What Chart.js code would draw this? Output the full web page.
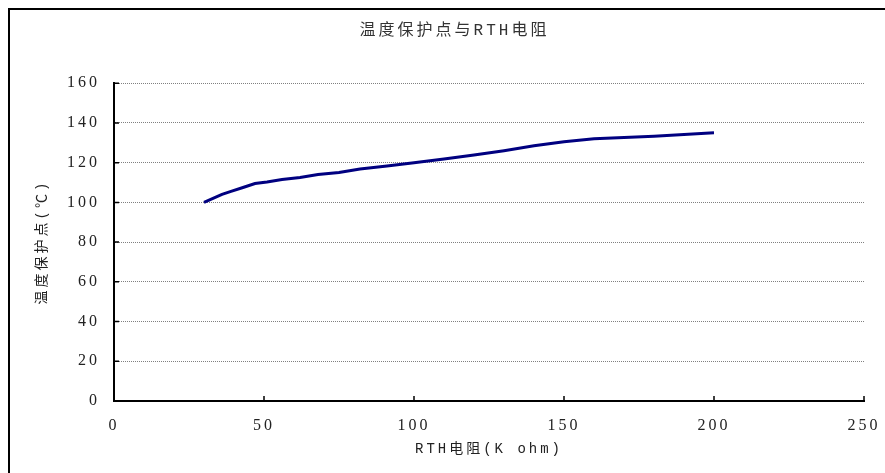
<!DOCTYPE html>
<html>
<head>
<meta charset="utf-8">
<script src="https://cdn.jsdelivr.net/npm/chart.js@4"></script>
<style>
  html, body { margin: 0; padding: 0; background: #fff; overflow: hidden; }
  #wrap { position: relative; width: 885px; height: 473px; }
  #frame { position: absolute; left: 8px; top: 8px; width: 900px; height: 500px; border: 2px solid #000; }
  canvas { position: absolute; left: 0; top: 0; }
</style>
</head>
<body>
<div id="wrap">
  <div id="frame"></div>
  <canvas id="grafik" width="885" height="473"></canvas>
</div>
<script>
// resistance (K ohm) vs protection temperature
var rthValues = [30, 33, 36, 39, 43, 47, 51, 56, 62, 68, 75, 82, 91, 100, 110, 120, 130, 140, 150, 160, 180, 200]
var tempValues = [100, 102, 104, 105.5, 107.5, 109.5, 110.3, 111.5, 112.5, 114, 115, 116.8, 118.3, 120, 121.8, 123.8, 126, 128.5, 130.5, 132, 133.3, 135]
var xTicks = [0, 50, 100, 150, 200, 250]
var yTicks = [0, 20, 40, 60, 80, 100, 120, 140, 160]

var serif = '"Liberation Serif", "Noto Sans CJK SC", serif'
var mono = '"Liberation Mono", "Noto Sans CJK SC", monospace'

// wide letter spacing like the original song-style font
var spacing = {
  id: 'spacing',
  beforeInit: function(chart) { chart.ctx.letterSpacing = '3px' },
  beforeUpdate: function(chart) { chart.ctx.letterSpacing = '3px' },
  beforeDraw: function(chart) { chart.ctx.letterSpacing = '3px' }
}

// small inward tick marks on both axes
var innerTicks = {
  id: 'innerTicks',
  afterDraw: function(chart) {
    var ctx = chart.ctx, area = chart.chartArea
    var xs = chart.scales.x, ys = chart.scales.y
    ctx.save()
    ctx.strokeStyle = '#000'
    ctx.lineWidth = 1.5
    ctx.beginPath()
    xs.ticks.forEach(function(t, i) {
      var px = xs.getPixelForTick(i)
      ctx.moveTo(px, area.bottom)
      ctx.lineTo(px, area.bottom - 5)
    })
    ys.ticks.forEach(function(t, i) {
      var py = ys.getPixelForTick(i)
      ctx.moveTo(area.left, py)
      ctx.lineTo(area.left + 5, py)
    })
    ctx.stroke()
    ctx.restore()
  }
}

var points = rthValues.map(function(v, i) { return {x: v, y: tempValues[i]} })

new Chart(document.getElementById('grafik'), {
  type: 'line',
  data: {
    datasets: [{
      data: points,
      borderColor: '#000080',
      borderWidth: 3,
      pointRadius: 0,
      tension: 0,
      fill: false
    }]
  },
  options: {
    responsive: false,
    animation: false,
    layout: { padding: { left: 24, right: 0, top: 0, bottom: 0 } },
    plugins: {
      legend: { display: false },
      tooltip: { enabled: false },
      title: {
        display: true,
        text: '温度保护点与RTH电阻',
        color: '#333',
        font: { family: mono, size: 16, weight: 'normal', lineHeight: 1.2 },
        padding: { top: 21, bottom: 43 }
      }
    },
    scales: {
      x: {
        type: 'linear',
        min: 0,
        max: 250,
        afterBuildTicks: function(s) { s.ticks = xTicks.map(function(v) { return {value: v} }) },
        afterFit: function(s) { s.height = 72; s.paddingLeft = 0; s.paddingRight = 21 },
        grid: { display: false, drawTicks: false },
        border: { display: true, color: '#000', width: 2 },
        ticks: { color: '#222', padding: 15, font: { family: serif, size: 16 } },
        title: {
          display: true,
          text: 'RTH电阻(K ohm)',
          color: '#222',
          font: { family: mono, size: 14, lineHeight: 1.2 },
          padding: { top: 0, bottom: 15 }
        }
      },
      y: {
        min: 0,
        max: 160,
        afterBuildTicks: function(s) { s.ticks = yTicks.map(function(v) { return {value: v} }) },
        afterFit: function(s) { s.width = 90 },
        grid: { color: '#808080', lineWidth: 1, drawTicks: false },
        border: { display: true, color: '#000', width: 2, dash: [1, 1] },
        ticks: { color: '#222', padding: 14, font: { family: serif, size: 16 } },
        title: {
          display: true,
          text: '温度保护点(℃)',
          color: '#222',
          font: { family: mono, size: 14, lineHeight: 1.2 },
          padding: { top: 10, bottom: 10 }
        }
      }
    }
  },
  plugins: [spacing, innerTicks]
})
</script>
</body>
</html>
